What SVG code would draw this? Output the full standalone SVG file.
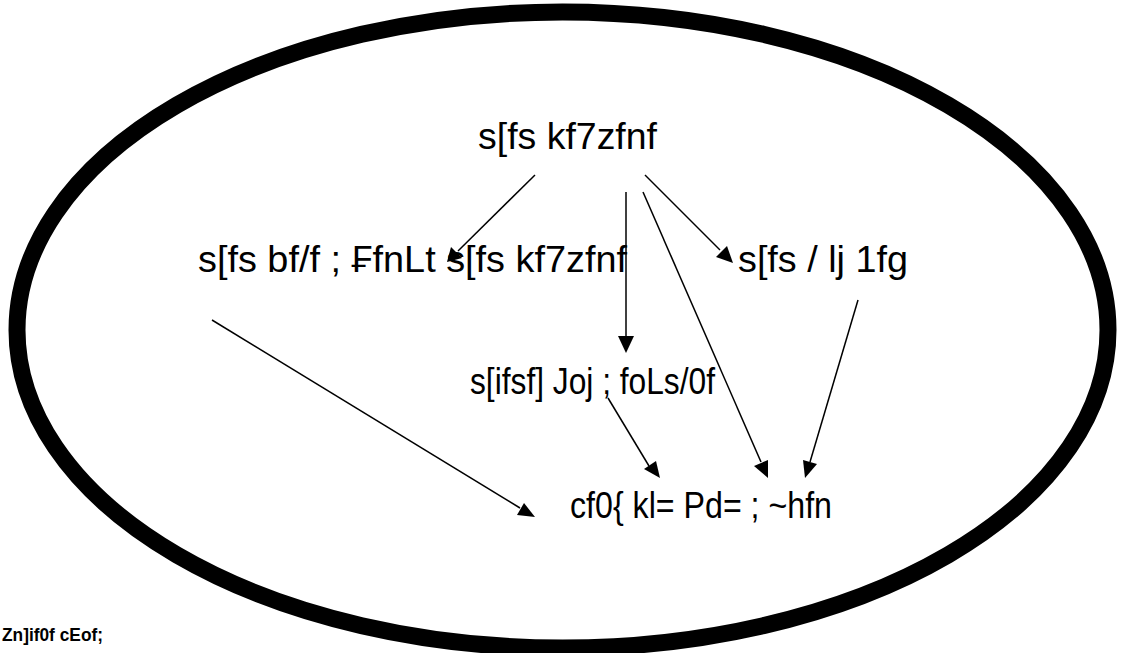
<svg xmlns="http://www.w3.org/2000/svg" width="1124" height="653" viewBox="0 0 1124 653">
<style>
.lbl{font-family:"Liberation Sans",Arial,sans-serif;font-size:37px;fill:#000}
.cap{font-family:"Liberation Sans",Arial,sans-serif;font-size:18px;font-weight:bold;fill:#000}
.edge{stroke:#000;stroke-width:1.5;fill:none}
.head{fill:#000}
</style>
<rect width="1124" height="653" fill="#fff"/>
<g id="boundary">
<ellipse cx="562.5" cy="330" rx="545.5" ry="318" fill="none" stroke="#000" stroke-width="17"/>
</g>
<g id="connectors">
<line class="edge" x1="535" y1="175" x2="458" y2="251"/>
<path class="head" d="M447,262 l4,-15 l11,11 z"/>
<line class="edge" x1="626" y1="192" x2="626" y2="336"/>
<path class="head" d="M626,353 l-8,-17 l16,0 z"/>
<line class="edge" x1="645" y1="175" x2="720" y2="250"/>
<path class="head" d="M733,263 l-17,-6 l11,-11 z"/>
<line class="edge" x1="643" y1="192" x2="761" y2="462"/>
<path class="head" d="M768,478 l-14,-12 l14,-6 z"/>
<line class="edge" x1="858" y1="300" x2="810" y2="462"/>
<path class="head" d="M805,478 l-2,-18 l14,4 z"/>
<line class="edge" x1="608" y1="398" x2="649" y2="466"/>
<path class="head" d="M660,478 l-16,-9 l12,-8 z"/>
<line class="edge" x1="212" y1="320" x2="520" y2="508"/>
<path class="head" d="M535,517 l-18,-2 l7,-12 z"/>
</g>
<g id="n1"><text class="lbl" x="478" y="149" textLength="179" lengthAdjust="spacingAndGlyphs">s[fs kf7zfnf</text></g>
<g id="n2"><text class="lbl" x="198" y="272" textLength="429" lengthAdjust="spacingAndGlyphs">s[fs bf/f ; ₣fnLt s[fs kf7zfnf</text></g>
<g id="n3"><text class="lbl" x="738" y="272" textLength="170" lengthAdjust="spacingAndGlyphs">s[fs / lj 1fg</text></g>
<g id="n4"><text class="lbl" x="470" y="394" textLength="245" lengthAdjust="spacingAndGlyphs">s[ifsf] Joj ; foLs/0f</text></g>
<g id="n5"><text class="lbl" x="570" y="518" textLength="262" lengthAdjust="spacingAndGlyphs">cf0{ kl= Pd= ; ~hfn</text></g>
<g id="caption"><text class="cap" x="2" y="641" textLength="101" lengthAdjust="spacingAndGlyphs">Zn]if0f cEof;</text></g>
</svg>
